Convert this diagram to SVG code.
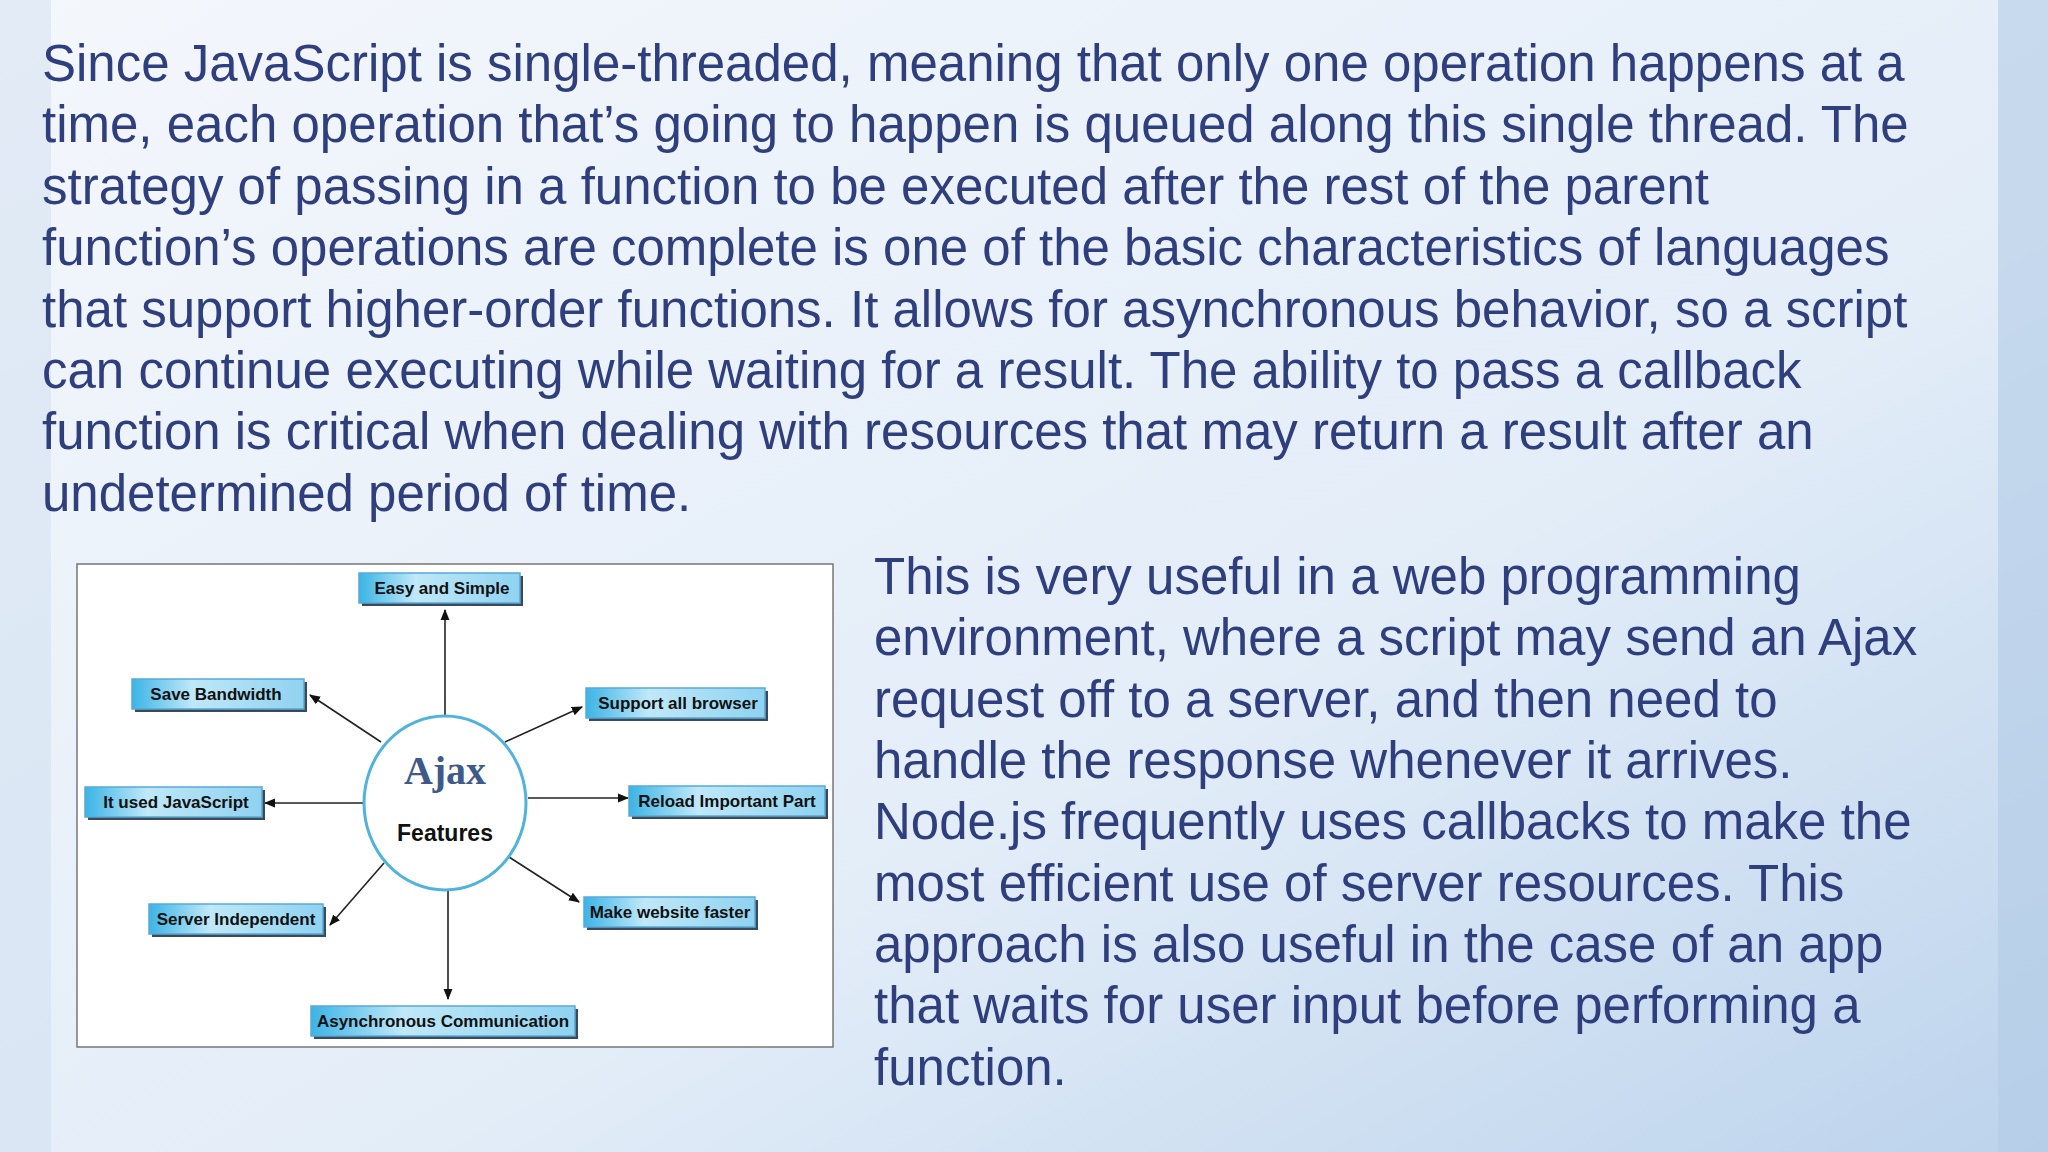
<svg xmlns="http://www.w3.org/2000/svg" width="2048" height="1152" viewBox="0 0 2048 1152">
<defs>
<linearGradient id="bg" x1="0" y1="0" x2="1" y2="1">
<stop offset="0" stop-color="#f4f7fc"/><stop offset="0.6" stop-color="#e3edf8"/><stop offset="1" stop-color="#bcd3ec"/>
</linearGradient>
<linearGradient id="bx" x1="0" y1="0" x2="1" y2="0">
<stop offset="0" stop-color="#3cb4e6"/><stop offset="0.35" stop-color="#bfe8f8"/><stop offset="1" stop-color="#8fd2f0"/>
</linearGradient>
<marker id="ah" viewBox="0 0 10 10" refX="9" refY="5" markerWidth="7" markerHeight="7" orient="auto"><path d="M0,1 L10,5 L0,9 z" fill="#111"/></marker>
<style>
.p{font-family:"Liberation Sans",Arial,sans-serif;font-size:51px;fill:#2f3f7e}
.b{fill:url(#bx);stroke:#5aa9d6;stroke-width:1.5}
.s{fill:#3a4a5a}
.t{font-family:"Liberation Sans",Arial,sans-serif;font-size:17px;font-weight:bold;fill:#111;text-anchor:middle}
.c line{stroke:#222;stroke-width:1.6;marker-end:url(#ah)}
</style>
</defs>
<rect width="2048" height="1152" fill="url(#bg)"/>
<rect x="0" y="0" width="51" height="1152" fill="#c9daee" opacity="0.4"/>
<rect x="1998" y="0" width="50" height="1152" fill="#b3cbe6" opacity="0.6"/>
<g id="text-main" class="p">
<text x="42" y="81">Since JavaScript is single-threaded, meaning that only one operation happens at a</text>
<text x="42" y="142">time, each operation that’s going to happen is queued along this single thread. The</text>
<text x="42" y="204">strategy of passing in a function to be executed after the rest of the parent</text>
<text x="42" y="265">function’s operations are complete is one of the basic characteristics of languages</text>
<text x="42" y="327">that support higher-order functions. It allows for asynchronous behavior, so a script</text>
<text x="42" y="388">can continue executing while waiting for a result. The ability to pass a callback</text>
<text x="42" y="449">function is critical when dealing with resources that may return a result after an</text>
<text x="42" y="511">undetermined period of time.</text>
</g>
<g id="text-side" class="p">
<text x="874" y="594">This is very useful in a web programming</text>
<text x="874" y="655">environment, where a script may send an Ajax</text>
<text x="874" y="717">request off to a server, and then need to</text>
<text x="874" y="778">handle the response whenever it arrives.</text>
<text x="874" y="839">Node.js frequently uses callbacks to make the</text>
<text x="874" y="901">most efficient use of server resources. This</text>
<text x="874" y="962">approach is also useful in the case of an app</text>
<text x="874" y="1023">that waits for user input before performing a</text>
<text x="874" y="1085">function.</text>
</g>
<rect id="frame" x="77" y="564" width="756" height="483" fill="#fff" stroke="#777" stroke-width="1.5"/>
<g id="connectors" class="c">
<line x1="445" y1="716" x2="445" y2="610"/>
<line x1="381" y1="742" x2="310" y2="695"/>
<line x1="505" y1="742" x2="582" y2="707"/>
<line x1="364" y1="803" x2="265" y2="803"/>
<line x1="528" y1="798" x2="628" y2="798"/>
<line x1="384" y1="863" x2="330" y2="925"/>
<line x1="509" y1="857" x2="579" y2="902"/>
<line x1="448" y1="891" x2="448" y2="999"/>
</g>
<g id="center">
<ellipse cx="445" cy="803" rx="81" ry="87" fill="#fff" stroke="#4fb3de" stroke-width="3"/>
<text x="445" y="784" text-anchor="middle" font-family="Liberation Serif,serif" font-weight="bold" font-size="40" fill="#3d5a8a">Ajax</text>
<text x="445" y="841" text-anchor="middle" font-family="Liberation Sans,Arial,sans-serif" font-weight="bold" font-size="23" fill="#111">Features</text>
</g>
<g id="n1"><rect class="s" x="362" y="576" width="161" height="30"/><rect class="b" x="359" y="573" width="161" height="30"/><text class="t" x="442" y="594">Easy and Simple</text></g>
<g id="n2"><rect class="s" x="135" y="682" width="172" height="30"/><rect class="b" x="132" y="679" width="172" height="30"/><text class="t" x="216" y="700">Save Bandwidth</text></g>
<g id="n3"><rect class="s" x="589" y="691" width="179" height="30"/><rect class="b" x="586" y="688" width="179" height="30"/><text class="t" x="678" y="709">Support all browser</text></g>
<g id="n4"><rect class="s" x="88" y="790" width="177" height="30"/><rect class="b" x="85" y="787" width="177" height="30"/><text class="t" x="176" y="808">It used JavaScript</text></g>
<g id="n5"><rect class="s" x="632" y="789" width="196" height="30"/><rect class="b" x="629" y="786" width="196" height="30"/><text class="t" x="727" y="807">Reload Important Part</text></g>
<g id="n6"><rect class="s" x="152" y="907" width="174" height="30"/><rect class="b" x="149" y="904" width="174" height="30"/><text class="t" x="236" y="925">Server Independent</text></g>
<g id="n7"><rect class="s" x="587" y="900" width="171" height="30"/><rect class="b" x="584" y="897" width="171" height="30"/><text class="t" x="670" y="918">Make website faster</text></g>
<g id="n8"><rect class="s" x="314" y="1009" width="264" height="30"/><rect class="b" x="311" y="1006" width="264" height="30"/><text class="t" x="443" y="1027">Asynchronous Communication</text></g>
</svg>
